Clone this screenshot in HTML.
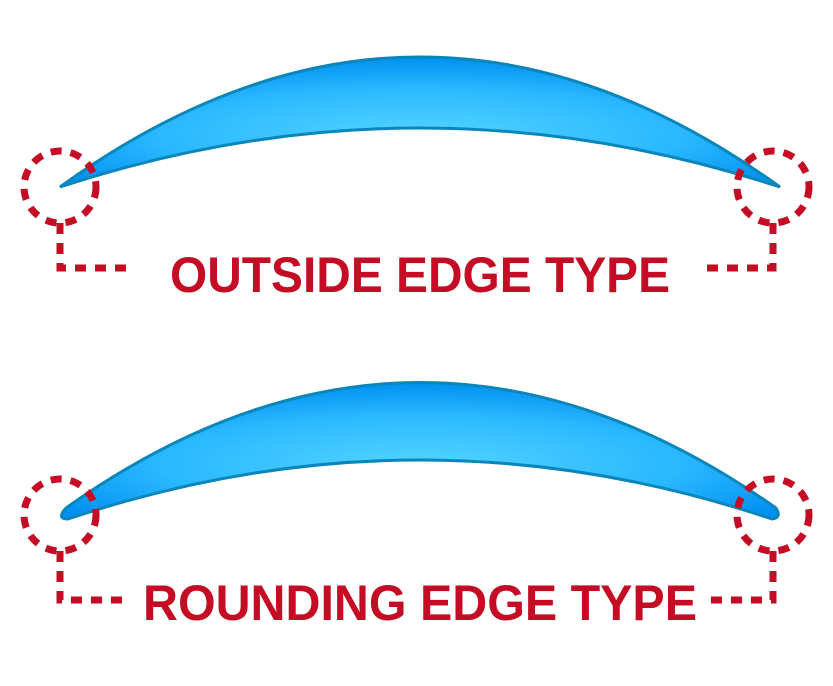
<!DOCTYPE html>
<html><head><meta charset="utf-8"><style>html,body{margin:0;padding:0;background:#fff}</style></head>
<body>
<svg width="833" height="681" viewBox="0 0 833 681" xmlns="http://www.w3.org/2000/svg">
<defs>
<radialGradient id="g" cx="0.5" cy="0.6" r="0.6">
<stop offset="0" stop-color="#52d4ff"/>
<stop offset="0.6" stop-color="#2ab8ff"/>
<stop offset="1" stop-color="#0090f0"/>
</radialGradient>
</defs>
<path d="M60,187 Q420,-73 780,187 Q420,69 60,187 Z" fill="url(#g)" stroke="#0a86bb" stroke-width="3" stroke-linejoin="miter"/>
<path d="M66,508 Q420,257 776,508 Q782,518 772,519 Q420,401 68,519 Q56,519 66,508 Z" fill="url(#g)" stroke="#0a86bb" stroke-width="3"/>
<g fill="none" stroke="#c40d25" stroke-width="7" stroke-dasharray="11,9">
<circle cx="60" cy="187" r="36"/>
<circle cx="773" cy="187" r="36"/>
<circle cx="60" cy="515" r="36"/>
<circle cx="773" cy="515" r="36"/>
<path d="M60,223 V268 H126"/>
<path d="M773,223 V268 H707"/>
<path d="M60,551 V600 H126"/>
<path d="M773,551 V600 H707"/>
</g>
<g fill="#c40d25" font-family="Liberation Sans, sans-serif" font-weight="bold" font-size="50">
<text x="170" y="292" textLength="500" lengthAdjust="spacingAndGlyphs">OUTSIDE EDGE TYPE</text>
<text x="143" y="620" textLength="554" lengthAdjust="spacingAndGlyphs">ROUNDING EDGE TYPE</text>
</g>
</svg>
</body></html>
